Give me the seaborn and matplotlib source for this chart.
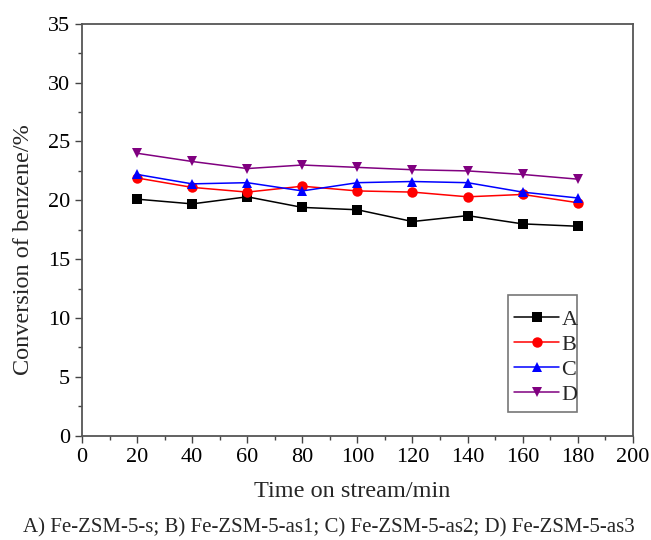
import pandas as pd
import numpy as np
import matplotlib.pyplot as plt
import seaborn as sns
from matplotlib.ticker import MultipleLocator

# data
time_min = [20, 40, 60, 80, 100, 120, 140, 160, 180]
conv_a = [20.1, 19.7, 20.3, 19.4, 19.2, 18.2, 18.7, 18.0, 17.8]
conv_b = [21.9, 21.1, 20.7, 21.2, 20.8, 20.7, 20.3, 20.5, 19.8]
conv_c = [22.2, 21.4, 21.5, 20.8, 21.5, 21.6, 21.5, 20.7, 20.2]
conv_d = [24.0, 23.3, 22.7, 23.0, 22.8, 22.6, 22.5, 22.2, 21.8]
samples = ['A', 'B', 'C', 'D']
caption = 'A) Fe-ZSM-5-s; B) Fe-ZSM-5-as1; C) Fe-ZSM-5-as2; D) Fe-ZSM-5-as3'

df = pd.DataFrame({
    'time': time_min * 4,
    'conv': conv_a + conv_b + conv_c + conv_d,
    'sample': np.repeat(samples, len(time_min)),
})

sns.set_style('ticks')
plt.rcParams['font.family'] = ['Liberation Serif', 'DejaVu Serif']

colors = {'A': 'black', 'B': '#ff0000', 'C': '#0000ff', 'D': '#800080'}
markers = {'A': 's', 'B': 'o', 'C': '^', 'D': 'v'}

fig = plt.figure(figsize=(6.51, 5.40), dpi=100)
ax = fig.add_axes([0.126, 0.193, 0.846, 0.763])

sns.lineplot(data=df, x='time', y='conv', hue='sample', style='sample',
             palette=colors, markers=markers, dashes=False, linewidth=1.1,
             markersize=7.5, markeredgewidth=0, ax=ax)

ax.set_xlim(0, 200)
ax.set_ylim(0, 35)
ax.xaxis.set_major_locator(MultipleLocator(20))
ax.xaxis.set_minor_locator(MultipleLocator(10))
ax.yaxis.set_major_locator(MultipleLocator(5))
ax.yaxis.set_minor_locator(MultipleLocator(2.5))
ax.tick_params(which='major', direction='out', length=5, width=1, labelsize=16,
               colors='#444444', labelcolor='black')
ax.tick_params(which='minor', direction='out', length=3, width=1, colors='#444444')
for s in ax.spines.values():
    s.set_color('#555555')
    s.set_linewidth(1.3)

ax.set_xlabel('Time on stream/min', fontsize=17.5)
ax.set_ylabel('Conversion of benzene/%', fontsize=17.5)
ax.xaxis.set_label_coords(0.49, -0.11)
ax.yaxis.set_label_coords(-0.087, 0.453)

leg = ax.legend(loc='lower left', bbox_to_anchor=(0.773, 0.058, 0.125, 0.284),
                mode='expand', fontsize=16, frameon=True, fancybox=False,
                title=' ', title_fontsize=3,
                handlelength=2.0, handletextpad=0.12, borderaxespad=0,
                labelspacing=0.2, borderpad=0.3)
leg.get_frame().set_edgecolor('#555555')
leg.get_frame().set_linewidth(1.2)

fig.text(0.505, 0.022, caption, ha='center', va='center', fontsize=15)

fig.savefig('out.png', dpi=100)
